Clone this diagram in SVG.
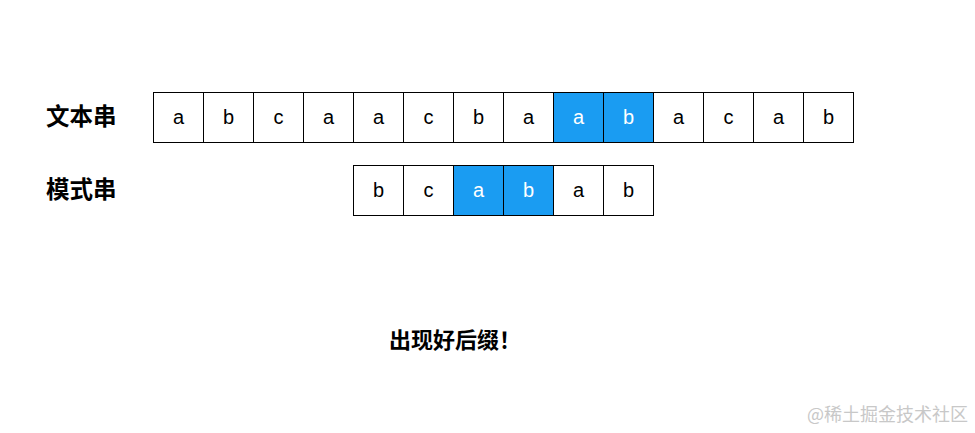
<svg xmlns="http://www.w3.org/2000/svg" width="975" height="433" viewBox="0 0 975 433">
<style>
.c{fill:#fff;stroke:#000;stroke-width:1}
.h{fill:#1a9cf2;stroke:#000;stroke-width:1}
.t{font-family:"Liberation Sans",Arial,sans-serif;font-size:20px;text-anchor:middle;fill:#000}
.w{fill:#fff}
.lb{font-family:"Noto Sans CJK SC",sans-serif;font-size:23.5px;font-weight:bold;fill:#000}
.cap{font-family:"Noto Sans CJK SC",sans-serif;font-size:22px;font-weight:bold;fill:#000}
.wm{font-family:"Noto Sans CJK SC",sans-serif;font-size:18px;fill:#c8c8c8}
</style>
<rect width="975" height="433" fill="#fff"/>
<g id="label-text"><text class="lb" x="46" y="125">文本串</text></g>
<g id="label-pattern"><text class="lb" x="46" y="198">模式串</text></g>
<g id="text-row">
<rect class="c" x="153.5" y="92.5" width="50" height="50"/><text class="t" x="178.5" y="124">a</text>
<rect class="c" x="203.5" y="92.5" width="50" height="50"/><text class="t" x="228.5" y="124">b</text>
<rect class="c" x="253.5" y="92.5" width="50" height="50"/><text class="t" x="278.5" y="124">c</text>
<rect class="c" x="303.5" y="92.5" width="50" height="50"/><text class="t" x="328.5" y="124">a</text>
<rect class="c" x="353.5" y="92.5" width="50" height="50"/><text class="t" x="378.5" y="124">a</text>
<rect class="c" x="403.5" y="92.5" width="50" height="50"/><text class="t" x="428.5" y="124">c</text>
<rect class="c" x="453.5" y="92.5" width="50" height="50"/><text class="t" x="478.5" y="124">b</text>
<rect class="c" x="503.5" y="92.5" width="50" height="50"/><text class="t" x="528.5" y="124">a</text>
<rect class="h" x="553.5" y="92.5" width="50" height="50"/><text class="t w" x="578.5" y="124">a</text>
<rect class="h" x="603.5" y="92.5" width="50" height="50"/><text class="t w" x="628.5" y="124">b</text>
<rect class="c" x="653.5" y="92.5" width="50" height="50"/><text class="t" x="678.5" y="124">a</text>
<rect class="c" x="703.5" y="92.5" width="50" height="50"/><text class="t" x="728.5" y="124">c</text>
<rect class="c" x="753.5" y="92.5" width="50" height="50"/><text class="t" x="778.5" y="124">a</text>
<rect class="c" x="803.5" y="92.5" width="50" height="50"/><text class="t" x="828.5" y="124">b</text>
</g>
<g id="pattern-row">
<rect class="c" x="353.5" y="165.5" width="50" height="50"/><text class="t" x="378.5" y="197">b</text>
<rect class="c" x="403.5" y="165.5" width="50" height="50"/><text class="t" x="428.5" y="197">c</text>
<rect class="h" x="453.5" y="165.5" width="50" height="50"/><text class="t w" x="478.5" y="197">a</text>
<rect class="h" x="503.5" y="165.5" width="50" height="50"/><text class="t w" x="528.5" y="197">b</text>
<rect class="c" x="553.5" y="165.5" width="50" height="50"/><text class="t" x="578.5" y="197">a</text>
<rect class="c" x="603.5" y="165.5" width="50" height="50"/><text class="t" x="628.5" y="197">b</text>
</g>
<g id="caption"><text class="cap" x="389" y="348">出现好后缀！</text></g>
<g id="connectors"></g>
<text class="wm" x="807" y="421">@稀土掘金技术社区</text>
</svg>
